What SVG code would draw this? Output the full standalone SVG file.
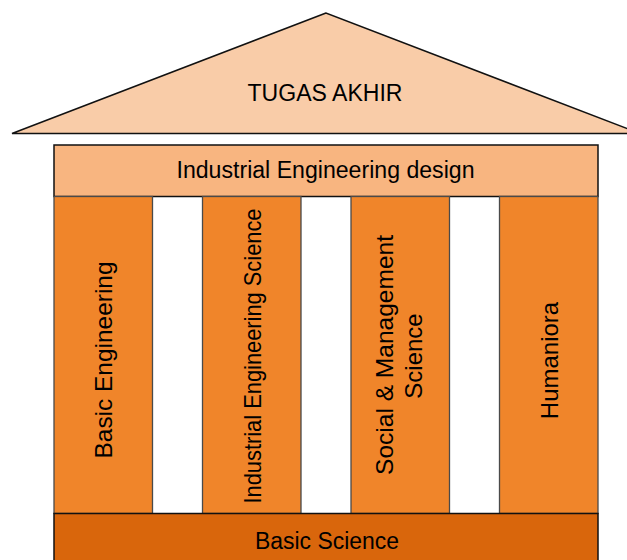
<svg xmlns="http://www.w3.org/2000/svg" width="627" height="560" viewBox="0 0 627 560">
<style>
text{font-family:"Liberation Sans",Arial,sans-serif;fill:#000;text-anchor:middle}
.col{fill:#f0852a;stroke:#4a4a4a;stroke-width:1.3}
.lbl{font-size:24px}
</style>
<rect width="627" height="560" fill="#fff"/>
<g id="roof">
<polygon points="326,13 12,133.5 640,133.5" fill="#f9cca8" stroke="#111" stroke-width="1.5"/>
<text x="325" y="100.5" font-size="23" textLength="155" lengthAdjust="spacingAndGlyphs">TUGAS AKHIR</text>
</g>
<g id="design">
<rect x="54" y="145" width="544" height="51.5" fill="#f8b580" stroke="#111" stroke-width="1.5"/>
<text x="325.5" y="178.3" font-size="23" textLength="298" lengthAdjust="spacingAndGlyphs">Industrial Engineering design</text>
</g>
<g id="basic-engineering">
<rect class="col" x="54" y="196.5" width="98.5" height="317"/>
<text class="lbl" transform="translate(111.5,360) rotate(-90)" textLength="197" lengthAdjust="spacingAndGlyphs">Basic Engineering</text>
</g>
<g id="ie-science">
<rect class="col" x="202.5" y="196.5" width="98.5" height="317"/>
<text class="lbl" transform="translate(260.5,356) rotate(-90)" textLength="295" lengthAdjust="spacingAndGlyphs">Industrial Engineering  Science</text>
</g>
<g id="social-management">
<rect class="col" x="351" y="196.5" width="98.5" height="317"/>
<text class="lbl" transform="translate(393,355) rotate(-90)" textLength="240" lengthAdjust="spacingAndGlyphs">Social &amp; Management</text>
<text class="lbl" transform="translate(421.5,356) rotate(-90)">Science</text>
</g>
<g id="humaniora">
<rect class="col" x="499.5" y="196.5" width="98.5" height="317"/>
<text class="lbl" transform="translate(557.5,360.5) rotate(-90)">Humaniora</text>
</g>
<g id="basic-science">
<rect x="54" y="513.5" width="544" height="60" fill="#d9660c" stroke="#111" stroke-width="1.5"/>
<text x="327" y="548.5" font-size="23" textLength="144" lengthAdjust="spacingAndGlyphs">Basic Science</text>
</g>
<g id="connectors"></g>
</svg>
